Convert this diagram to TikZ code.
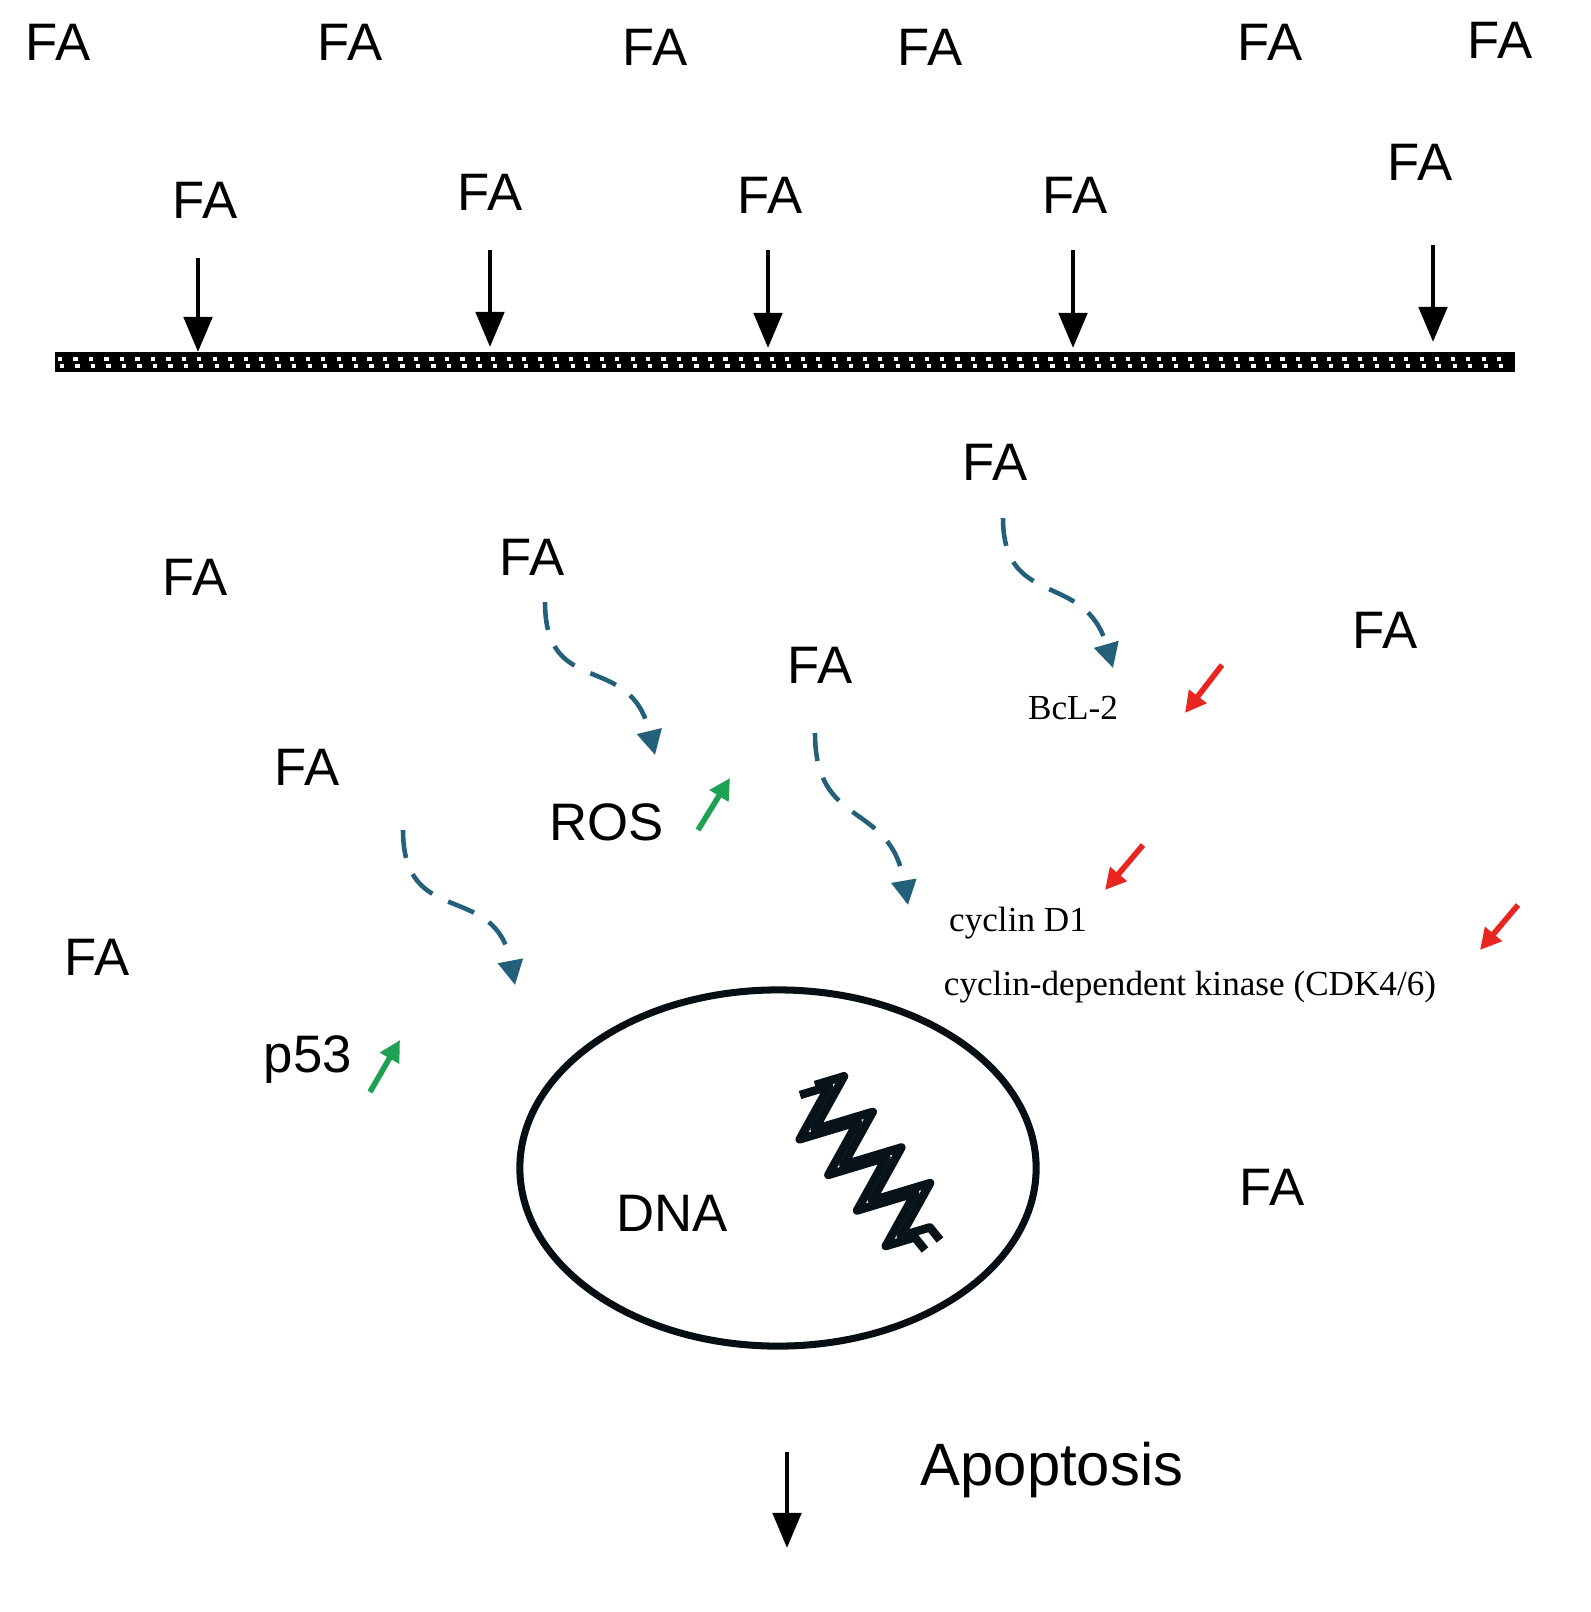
\documentclass[tikz,border=0pt]{standalone}
\usepackage{fontspec}
\setmainfont{Liberation Sans}
\newfontfamily\serifx{Liberation Serif}
\usetikzlibrary{arrows.meta,decorations.pathmorphing,shapes.geometric}
\definecolor{dblue}{HTML}{24607A}
\definecolor{myred}{HTML}{E8251F}
\definecolor{mygreen}{HTML}{1EA152}
\begin{document}
\begin{tikzpicture}[x=0.01cm,y=-0.01cm,
 fa/.style={font=\fontsize{15}{17}\selectfont},
 lbl/.style={font=\fontsize{15}{17}\selectfont},
 sm/.style={font=\serifx\fontsize{10}{12}\selectfont},
 blk/.style={-{Triangle[length=10pt,width=8pt]},line width=1.4pt},
 dsh/.style={dblue,line width=1.3pt,dash pattern=on 8pt off 5pt,-{Triangle[length=7pt,width=7pt]}},
 red/.style={myred,line width=1.6pt,-{Triangle[length=6pt,width=6pt]}},
 grn/.style={mygreen,line width=1.6pt,-{Triangle[length=6pt,width=6pt]}},
 helix/.style={black!80!dblue,line width=2.4pt,line join=round,decorate,decoration={zigzag,segment length=13pt,amplitude=8pt}}]
\useasboundingbox (0,0) rectangle (1591,1612);
% membrane
\draw[line width=0.2cm] (55,362) -- (1515,362);
\draw[white,line width=1.2pt,dash pattern=on 1.2pt off 3.2pt] (58,359) -- (1512,359);
\draw[white,line width=1.2pt,dash pattern=on 1.2pt off 3.2pt] (60,366) -- (1512,366);
% top FA
\foreach \x/\y/\n in {58/42/t1,350/42/t2,655/47/t3,930/47/t4,1270/42/t5,1500/40/t6}
  \node[fa] (\n) at (\x,\y) {FA};
\node[fa] (s1) at (205,200) {FA};
\node[fa] (s2) at (490,192) {FA};
\node[fa] (s3) at (770,195) {FA};
\node[fa] (s4) at (1075,195) {FA};
\node[fa] (s5) at (1420,162) {FA};
\coordinate (m1) at (198,352); \coordinate (m2) at (490,347);
\coordinate (m3) at (768,348); \coordinate (m4) at (1073,348); \coordinate (m5) at (1433,342);
\draw[blk] (198,258) -- (m1);
\draw[blk] (490,250) -- (m2);
\draw[blk] (768,250) -- (m3);
\draw[blk] (1073,250) -- (m4);
\draw[blk] (1433,245) -- (m5);
% inner FA
\foreach \x/\y/\n in {995/462/i1,195/577/i2,532/557/i3,1385/630/i4,820/665/i5,307/767/i6,97/957/i7,1272/1187/i8}
  \node[fa] (\n) at (\x,\y) {FA};
\node[lbl] (ros) at (607,822) {ROS};
\node[lbl] (p53) at (308,1060) {p53};
\node[lbl] (dna) at (672,1213) {DNA};
\node[font=\fontsize{17}{19}\selectfont] (apo) at (1052,1470) {Apoptosis};
\node[sm] (bcl) at (1073,708) {BcL-2};
\node[sm] (cyc) at (1018,923) {cyclin D1};
\node[sm] (cdk) at (1190,987) {cyclin-dependent kinase (CDK4/6)};
% dashed wavy arrows
\draw[dsh] (1003,518) .. controls (1003,610) and (1085,570) .. (1113,668);
\draw[dsh] (545,602) .. controls (545,700) and (630,650) .. (655,755);
\draw[dsh] (815,733) .. controls (815,830) and (890,800) .. (908,905);
\draw[dsh] (403,830) .. controls (403,930) and (495,880) .. (515,985);
% green / red
\draw[grn] (698,830) -- (730,778);
\draw[grn] (370,1092) -- (400,1040);
\draw[red] (1222,665) -- (1185,713);
\draw[red] (1143,845) -- (1105,890);
\draw[red] (1518,905) -- (1480,950);
% nucleus
\node[draw=black!85!dblue,line width=2pt,ellipse,minimum width=5.16cm,minimum height=3.56cm,inner sep=0pt] (nuc) at (778,1168) {};
\draw[helix] (800,1095) -- (925,1250);
\draw[helix] (815,1085) -- (940,1240);
% apoptosis arrow
\coordinate (ae) at (787,1548);
\draw[blk] (787,1452) -- (ae);
\end{tikzpicture}
\end{document}
